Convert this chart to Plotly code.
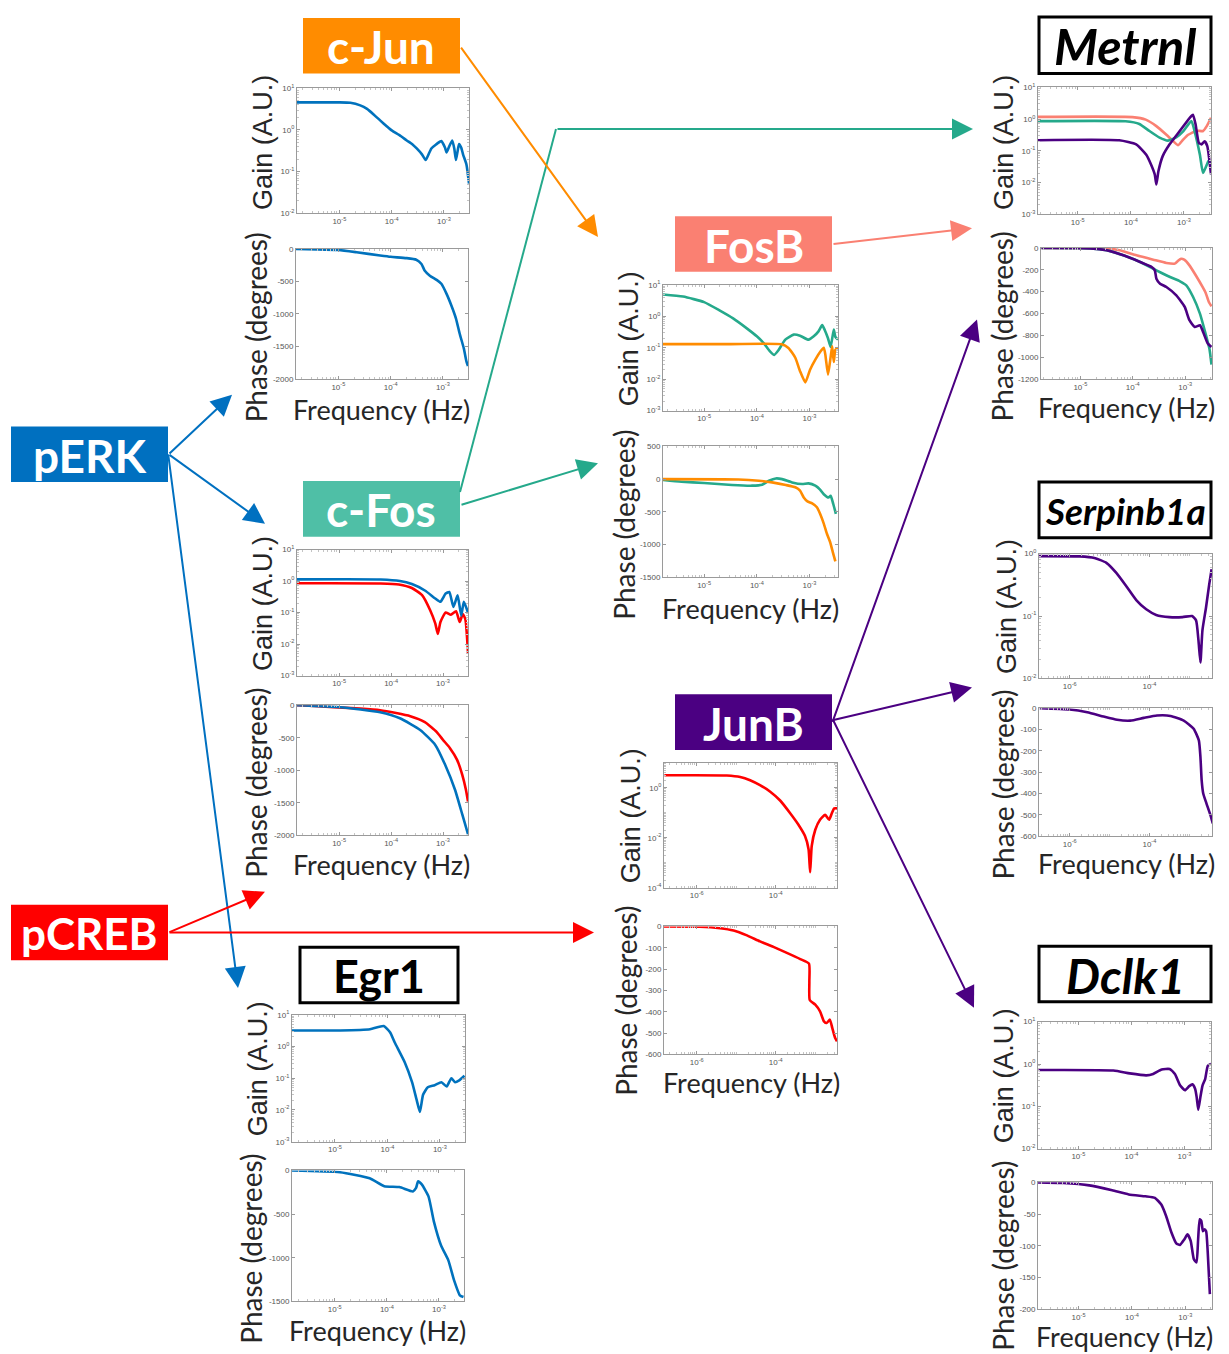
import plotly.graph_objects as go

W, H = 1229, 1354

BLUE = "#0072BD"
RED = "#FF0000"
TEAL = "#25A98B"
ORANGE = "#FF8C00"
SALMON = "#FA8072"
PURPLE = "#4B0082"

# ---------------------------------------------------------------
# Frequency responses. Frequencies are given as log10(Hz);
# gains in A.U., phases in degrees.
# ---------------------------------------------------------------

# c-Jun  (input: pERK)
cjun_gain_logf = [-5.81, -5.0, -4.79, -4.6, -4.47, -4.35, -4.22, -4.1, -4.0, -3.85, -3.71, -3.6,
                  -3.52, -3.42, -3.35, -3.3, -3.24, -3.15, -3.05, -2.98, -2.95, -2.9, -2.84, -2.8,
                  -2.77, -2.74, -2.71, -2.67, -2.63, -2.57, -2.52]
cjun_gain = [4.6, 4.6, 4.5, 3.9, 3.2, 2.4, 1.7, 1.25, 0.98, 0.75, 0.56, 0.45,
             0.36, 0.26, 0.19, 0.25, 0.36, 0.45, 0.54, 0.38, 0.29, 0.4, 0.56, 0.35,
             0.19, 0.3, 0.46, 0.38, 0.25, 0.15, 0.052]
cjun_phase_logf = [-5.81, -5.4, -5.0, -4.65, -4.2, -4.0, -3.7, -3.51, -3.41, -3.35, -3.25, -3.12,
                   -3.03, -2.93, -2.84, -2.75, -2.68, -2.6, -2.55, -2.52]
cjun_phase = [0, -5, -15, -50, -100, -120, -140, -165, -230, -330, -410, -475,
              -535, -690, -865, -1070, -1300, -1530, -1730, -1800]

# FosB  (inputs: c-Fos, c-Jun)
fosb_gain_cfos_logf = [-5.78, -5.4, -5.0, -4.7, -4.45, -4.19, -4.0, -3.87, -3.75, -3.67, -3.59, -3.46,
                       -3.3, -3.18, -3.02, -2.92, -2.83, -2.76, -2.71, -2.65, -2.6, -2.54, -2.51, -2.46]
fosb_gain_cfos = [4.9, 4.2, 2.8, 1.5, 0.85, 0.41, 0.23, 0.14, 0.077, 0.059, 0.083, 0.18,
                  0.26, 0.24, 0.18, 0.23, 0.33, 0.52, 0.36, 0.2, 0.105, 0.38, 0.22, 0.18]
fosb_gain_cjun_logf = [-5.78, -4.5, -3.53, -3.4, -3.27, -3.18, -3.08, -2.99, -2.89, -2.79, -2.73, -2.7,
                       -2.65, -2.6, -2.57, -2.54, -2.51, -2.46]
fosb_gain_cjun = [0.13, 0.13, 0.128, 0.098, 0.048, 0.018, 0.0079, 0.02, 0.042, 0.077, 0.1, 0.06,
                  0.014, 0.05, 0.11, 0.035, 0.085, 0.1]
fosb_phase_cfos_logf = [-5.82, -5.43, -5.0, -4.47, -4.09, -3.9, -3.77, -3.64, -3.52, -3.33, -3.14, -3.02,
                        -2.89, -2.8, -2.73, -2.64, -2.6, -2.55, -2.5]
fosb_phase_cfos = [-10, -40, -60, -90, -100, -85, -25, 10, 0, -50, -75, -65,
                   -100, -160, -230, -280, -255, -380, -530]
fosb_phase_cjun_logf = [-5.82, -4.35, -3.96, -3.71, -3.45, -3.27, -3.18, -3.11, -3.04, -2.95, -2.86, -2.8,
                        -2.73, -2.67, -2.61, -2.56, -2.51]
fosb_phase_cjun = [0, -5, -25, -50, -90, -125, -175, -280, -340, -370, -430, -530,
                   -680, -835, -960, -1110, -1255]

# Metrnl  (inputs: FosB, c-Fos, JunB)
metrnl_gain_fosb_logf = [-5.75, -3.97, -3.72, -3.52, -3.33, -3.2, -3.11, -3.01, -2.92, -2.76, -2.64, -2.57, -2.49]
metrnl_gain_fosb = [1.17, 1.15, 0.96, 0.6, 0.32, 0.2, 0.15, 0.23, 0.32, 0.43, 0.42, 0.6, 1.1]
metrnl_gain_cfos_logf = [-5.75, -4.1, -3.84, -3.65, -3.46, -3.3, -3.14, -3.01, -2.86, -2.8, -2.7, -2.64,
                         -2.57, -2.53, -2.49]
metrnl_gain_cfos = [0.86, 0.85, 0.7, 0.42, 0.26, 0.21, 0.27, 0.42, 0.86, 0.42, 0.076, 0.02,
                    0.036, 0.05, 0.036]
metrnl_gain_junb_logf = [-5.75, -4.22, -3.9, -3.71, -3.62, -3.55, -3.52, -3.48, -3.4, -3.27, -3.08, -2.89,
                         -2.83, -2.78, -2.72, -2.67, -2.61, -2.56, -2.49]
metrnl_gain_junb = [0.216, 0.214, 0.16, 0.075, 0.037, 0.018, 0.0087, 0.023, 0.068, 0.16, 0.42, 1.1,
                    1.37, 0.67, 0.18, 0.16, 0.2, 0.14, 0.018]
metrnl_phase_fosb_logf = [-5.74, -4.5, -4.25, -3.93, -3.61, -3.36, -3.2, -3.14, -3.08, -3.02, -2.92, -2.8,
                          -2.67, -2.61, -2.55, -2.5]
metrnl_phase_fosb = [0, -3, -21, -67, -107, -137, -143, -119, -98, -107, -159, -250,
                     -357, -412, -495, -534]
metrnl_phase_cfos_logf = [-5.74, -4.81, -4.5, -4.18, -3.86, -3.61, -3.45, -3.29, -3.1, -2.98, -2.85, -2.72,
                          -2.63, -2.54, -2.5]
metrnl_phase_cfos = [0, -3, -21, -67, -128, -189, -229, -266, -305, -342, -449, -601,
                     -754, -922, -1068]
metrnl_phase_junb_logf = [-5.74, -4.81, -4.5, -4.18, -3.86, -3.64, -3.58, -3.55, -3.48, -3.36, -3.17, -3.01,
                          -2.92, -2.82, -2.72, -2.66, -2.57, -2.5]
metrnl_phase_junb = [0, -3, -21, -67, -128, -174, -205, -281, -327, -357, -434, -540,
                     -662, -724, -708, -769, -876, -907]

# c-Fos  (inputs: pERK, pCREB)
cfos_gain_perk_logf = [-5.81, -4.2, -3.83, -3.6, -3.35, -3.15, -3.05, -2.95, -2.88, -2.8, -2.72, -2.65, -2.6, -2.52]
cfos_gain_perk = [1.13, 1.12, 1.0, 0.8, 0.5, 0.28, 0.22, 0.4, 0.45, 0.15, 0.35, 0.08, 0.22, 0.1]
cfos_gain_pcreb_logf = [-5.81, -4.2, -3.85, -3.6, -3.4, -3.25, -3.15, -3.1, -3.05, -2.95, -2.85, -2.75,
                        -2.68, -2.62, -2.57, -2.52]
cfos_gain_pcreb = [0.85, 0.84, 0.78, 0.6, 0.35, 0.12, 0.045, 0.021, 0.05, 0.1, 0.085, 0.11,
                   0.05, 0.09, 0.06, 0.0052]
cfos_phase_perk_logf = [-5.81, -4.98, -4.21, -3.83, -3.44, -3.15, -2.96, -2.77, -2.63, -2.52]
cfos_phase_perk = [0, -30, -107, -200, -380, -610, -916, -1300, -1680, -1985]
cfos_phase_pcreb_logf = [-5.81, -4.21, -3.63, -3.35, -3.12, -3.0, -2.87, -2.73, -2.63, -2.56, -2.52]
cfos_phase_pcreb = [0, -76, -168, -260, -412, -534, -656, -840, -1070, -1300, -1480]

# Serpinb1a  (input: JunB)
serpin_gain_logf = [-6.77, -5.75, -5.38, -5.08, -4.83, -4.58, -4.33, -4.08, -3.83, -3.5, -3.17, -2.93,
                    -2.83, -2.77, -2.72, -2.67, -2.58, -2.5, -2.44]
serpin_gain = [0.91, 0.9, 0.85, 0.71, 0.49, 0.3, 0.18, 0.128, 0.104, 0.096, 0.096, 0.1,
               0.085, 0.041, 0.018, 0.059, 0.137, 0.32, 0.56]
serpin_phase_logf = [-6.75, -6.0, -5.56, -5.15, -4.81, -4.48, -4.14, -3.81, -3.47, -3.14, -2.89, -2.76,
                     -2.72, -2.69, -2.65, -2.57, -2.47, -2.41]
serpin_phase = [0, -6, -19, -39, -54, -58, -45, -34, -36, -58, -96, -151,
                -229, -337, -400, -446, -501, -540]

# JunB  (input: pCREB)
junb_gain_logf = [-6.82, -5.24, -4.9, -4.65, -4.4, -4.14, -3.89, -3.64, -3.43, -3.26, -3.17, -3.13,
                  -3.09, -3.0, -2.88, -2.75, -2.65, -2.58, -2.52, -2.45]
junb_gain = [3.16, 3.1, 2.7, 2.0, 1.27, 0.7, 0.31, 0.098, 0.034, 0.0117, 0.0035, 0.00042,
             0.0047, 0.021, 0.053, 0.083, 0.053, 0.097, 0.15, 0.15]
junb_phase_logf = [-6.83, -5.92, -5.41, -5.07, -4.73, -4.4, -4.06, -3.72, -3.38, -3.16, -3.15, -3.14,
                   -3.0, -2.88, -2.78, -2.71, -2.63, -2.57, -2.5, -2.45]
junb_phase = [0, -1, -8, -19, -42, -70, -96, -124, -153, -174, -260, -345,
              -367, -398, -445, -453, -437, -476, -522, -538]

# Egr1  (input: pERK)
egr1_gain_logf = [-5.82, -4.9, -4.33, -4.07, -3.95, -3.86, -3.67, -3.53, -3.44, -3.38, -3.32, -3.23,
                  -3.1, -2.97, -2.87, -2.78, -2.71, -2.63, -2.53]
egr1_gain = [3.2, 3.2, 3.5, 4.4, 2.8, 1.33, 0.32, 0.075, 0.02, 0.0087, 0.03, 0.052,
             0.06, 0.075, 0.055, 0.1, 0.075, 0.086, 0.12]
egr1_phase_logf = [-5.82, -4.9, -4.33, -4.05, -3.76, -3.5, -3.44, -3.4, -3.33, -3.2, -3.1, -2.96,
                   -2.82, -2.71, -2.6, -2.53]
egr1_phase = [0, -20, -90, -180, -190, -240, -200, -125, -160, -300, -580, -860,
              -1030, -1260, -1430, -1450]

# Dclk1  (input: JunB)
dclk1_gain_logf = [-5.75, -4.34, -4.03, -3.72, -3.59, -3.43, -3.28, -3.18, -3.08, -2.99, -2.91, -2.85,
                   -2.8, -2.77, -2.74, -2.7, -2.66, -2.61, -2.56, -2.5]
dclk1_gain = [0.72, 0.7, 0.6, 0.54, 0.58, 0.74, 0.76, 0.58, 0.31, 0.24, 0.3, 0.33,
              0.26, 0.165, 0.083, 0.165, 0.31, 0.44, 0.91, 1.0]
dclk1_phase_logf = [-5.76, -5.29, -4.8, -4.37, -4.06, -3.75, -3.57, -3.45, -3.36, -3.26, -3.17, -3.1,
                    -3.02, -2.96, -2.9, -2.84, -2.79, -2.76, -2.73, -2.7, -2.67, -2.64, -2.61, -2.58, -2.54]
dclk1_phase = [0, -1, -4.7, -12.5, -19, -22, -24.5, -35, -53, -79, -96, -98.5,
               -90, -82, -92, -121, -126, -90, -58, -61, -77, -74, -77, -110, -176]

# ---------------------------------------------------------------
# Panel layout (pixel boxes: left, top, right, bottom)
# ---------------------------------------------------------------
panels = [
    dict(gbox=(297, 83, 469, 209), pbox=(296, 245, 468, 376), xr=(-5.81, -2.52), xt=[-5, -4, -3],
         gr=(-2, 1), gt=[-2, -1, 0, 1], pr=(-2000, 0), pt=[-2000, -1500, -1000, -500, 0],
         gain=[(cjun_gain_logf, cjun_gain, BLUE)],
         phase=[(cjun_phase_logf, cjun_phase, BLUE)]),
    dict(gbox=(663, 281, 838, 408), pbox=(663, 444, 838, 576), xr=(-5.78, -2.46), xt=[-5, -4, -3],
         gr=(-3, 1), gt=[-3, -2, -1, 0, 1], pr=(-1500, 500), pt=[-1500, -1000, -500, 0, 500],
         gain=[(fosb_gain_cfos_logf, fosb_gain_cfos, TEAL), (fosb_gain_cjun_logf, fosb_gain_cjun, ORANGE)],
         phase=[(fosb_phase_cfos_logf, fosb_phase_cfos, TEAL), (fosb_phase_cjun_logf, fosb_phase_cjun, ORANGE)]),
    dict(gbox=(1038, 82, 1211, 210), pbox=(1041, 244, 1212, 376), xr=(-5.75, -2.49), xt=[-5, -4, -3],
         gr=(-3, 1), gt=[-3, -2, -1, 0, 1], pr=(-1200, 0), pt=[-1200, -1000, -800, -600, -400, -200, 0],
         gain=[(metrnl_gain_fosb_logf, metrnl_gain_fosb, SALMON), (metrnl_gain_cfos_logf, metrnl_gain_cfos, TEAL),
               (metrnl_gain_junb_logf, metrnl_gain_junb, PURPLE)],
         phase=[(metrnl_phase_fosb_logf, metrnl_phase_fosb, SALMON), (metrnl_phase_cfos_logf, metrnl_phase_cfos, TEAL),
                (metrnl_phase_junb_logf, metrnl_phase_junb, PURPLE)]),
    dict(gbox=(297, 548, 468, 675), pbox=(297, 705, 468, 836), xr=(-5.81, -2.52), xt=[-5, -4, -3],
         gr=(-3, 1), gt=[-3, -2, -1, 0, 1], pr=(-2000, 0), pt=[-2000, -1500, -1000, -500, 0],
         gain=[(cfos_gain_pcreb_logf, cfos_gain_pcreb, RED), (cfos_gain_perk_logf, cfos_gain_perk, BLUE)],
         phase=[(cfos_phase_pcreb_logf, cfos_phase_pcreb, RED), (cfos_phase_perk_logf, cfos_phase_perk, BLUE)]),
    dict(gbox=(1039, 552, 1212, 678), pbox=(1039, 708, 1212, 837), xr=(-6.77, -2.43), xt=[-6, -4],
         gr=(-2, 0), gt=[-2, -1, 0], pr=(-600, 0), pt=[-600, -500, -400, -300, -200, -100, 0],
         gain=[(serpin_gain_logf, serpin_gain, PURPLE)],
         phase=[(serpin_phase_logf, serpin_phase, PURPLE)]),
    dict(gbox=(664, 763, 837, 889), pbox=(664, 928, 837, 1057), xr=(-6.83, -2.45), xt=[-6, -4],
         gr=(-4, 1), gt=[-4, -2, 0], pr=(-600, 0), pt=[-600, -500, -400, -300, -200, -100, 0],
         gain=[(junb_gain_logf, junb_gain, RED)],
         phase=[(junb_phase_logf, junb_phase, RED)]),
    dict(gbox=(292, 1017, 465, 1145), pbox=(292, 1174, 464, 1306), xr=(-5.82, -2.52), xt=[-5, -4, -3],
         gr=(-3, 1), gt=[-3, -2, -1, 0, 1], pr=(-1500, 0), pt=[-1500, -1000, -500, 0],
         gain=[(egr1_gain_logf, egr1_gain, BLUE)],
         phase=[(egr1_phase_logf, egr1_phase, BLUE)]),
    dict(gbox=(1038, 1024, 1211, 1152), pbox=(1038, 1186, 1212, 1314), xr=(-5.76, -2.5), xt=[-5, -4, -3],
         gr=(-2, 1), gt=[-2, -1, 0, 1], pr=(-200, 0), pt=[-200, -150, -100, -50, 0],
         gain=[(dclk1_gain_logf, dclk1_gain, PURPLE)],
         phase=[(dclk1_phase_logf, dclk1_phase, PURPLE)]),
]

TICK_FONT = dict(family="Liberation Sans", size=8, color="#555555")
FRAME = "#9a9a9a"


def pow10(e):
    return "10<sup>%d</sup>" % e


fig = go.Figure()
layout = {}
ax_id = 0


def add_axes(box, xr, xt, yr, yt, ylog, series):
    global ax_id
    ax_id += 1
    sfx = "" if ax_id == 1 else str(ax_id)
    l, t, r, b = box
    xa = dict(domain=[l / W, r / W], anchor="y" + sfx, type="log", range=list(xr),
              tickvals=[10.0 ** e for e in xt], ticktext=[pow10(e) for e in xt],
              showline=True, mirror="ticks", linecolor=FRAME, linewidth=1,
              ticks="inside", ticklen=3, tickcolor=FRAME, tickfont=TICK_FONT,
              showgrid=False, zeroline=False, fixedrange=True,
              minor=dict(ticks="inside", ticklen=2, tickcolor="#c4c4c4", dtick="D1", showgrid=False))
    if ylog:
        ya = dict(type="log", range=list(yr), tickvals=[10.0 ** e for e in yt],
                  ticktext=[pow10(e) for e in yt],
                  minor=dict(ticks="inside", ticklen=2, tickcolor="#c4c4c4", dtick="D1", showgrid=False))
    else:
        ya = dict(type="linear", range=list(yr), tickvals=yt, ticktext=[str(v) for v in yt])
    ya.update(domain=[1 - b / H, 1 - t / H], anchor="x" + sfx,
              showline=True, mirror="ticks", linecolor=FRAME, linewidth=1,
              ticks="inside", ticklen=3, tickcolor=FRAME, tickfont=TICK_FONT,
              showgrid=False, zeroline=False, fixedrange=True)
    layout["xaxis" + sfx] = xa
    layout["yaxis" + sfx] = ya
    for logf, vals, color in series:
        fig.add_trace(go.Scatter(
            x=[10.0 ** v for v in logf], y=vals, mode="lines",
            xaxis="x" + sfx, yaxis="y" + sfx, showlegend=False, hoverinfo="skip",
            line=dict(color=color, width=2.6, shape="spline", smoothing=0.5)))


for p in panels:
    add_axes(p["gbox"], p["xr"], p["xt"], p["gr"], p["gt"], True, p["gain"])
    add_axes(p["pbox"], p["xr"], p["xt"], p["pr"], p["pt"], False, p["phase"])

# ---------------------------------------------------------------
# Axis titles
# ---------------------------------------------------------------
annotations = []
TITLE_COLOR = "#262626"


def text_at(txt, cx, cy, size, family, angle=0, color=TITLE_COLOR, bold=False, italic=False):
    if bold:
        txt = "<b>" + txt + "</b>"
    if italic:
        txt = "<i>" + txt + "</i>"
    annotations.append(dict(text=txt, x=cx / W, y=1 - cy / H, xref="paper", yref="paper",
                            showarrow=False, textangle=angle, xanchor="center", yanchor="middle",
                            font=dict(size=size, family=family, color=color)))


gain_titles = [(263, 138), (629, 336), (1004, 138), (263, 603), (1007, 606), (631, 816), (258, 1072), (1004, 1079)]
phase_titles = [(256, 324), (624, 523), (1002, 323), (256, 783), (1003, 785), (626, 1003), (251, 1253), (1003, 1260)]
freq_titles = [(381, 407), (750, 607), (1126, 405), (381, 866), (1126, 865), (751, 1085), (377, 1335), (1124, 1341)]

for cx, cy in gain_titles:
    text_at("Gain (A.U.)", cx, cy, 27, "Liberation Sans", angle=-90)
for cx, cy in phase_titles:
    text_at("Phase (degrees)", cx, cy, 28, "Lato", angle=-90)
for cx, cy in freq_titles:
    text_at("Frequency (Hz)", cx, cy, 27, "Lato")

# ---------------------------------------------------------------
# Node labels
# ---------------------------------------------------------------
shapes = []


def node(label, box, fill, text_color="white", border=None, italic=False, size=45):
    l, t, r, b = box
    shapes.append(dict(type="rect", xref="paper", yref="paper",
                       x0=l / W, x1=r / W, y0=1 - b / H, y1=1 - t / H,
                       fillcolor=fill, line=dict(color=border or fill, width=3 if border else 0),
                       layer="above"))
    text_at(label, (l + r) / 2, (t + b) / 2 + 1, size, "Lato", color=text_color, bold=True, italic=italic)


node("c-Jun", (303, 12, 460, 68), ORANGE, size=46)
node("FosB", (675, 212, 832, 268), SALMON, size=46)
node("c-Fos", (303, 479, 460, 535), "#4FBFA6", size=46)
node("JunB", (675, 694, 832, 750), PURPLE, size=46)
node("pERK", (11, 424, 168, 480), "#0070C0", size=46)
node("pCREB", (11, 906, 168, 962), RED, size=44)
node("Egr1", (300, 949, 458, 1005), "white", text_color="black", border="black", size=45)
node("Metrnl", (1039, 11, 1211, 68), "white", text_color="black", border="black", italic=True, size=50)
node("Serpinb1a", (1039, 480, 1211, 536), "white", text_color="black", border="black", italic=True, size=37)
node("Dclk1", (1039, 948, 1211, 1004), "white", text_color="black", border="black", italic=True, size=48)

# ---------------------------------------------------------------
# Regulatory arrows
# ---------------------------------------------------------------


def arrow(x0, y0, x1, y1, color):
    annotations.append(dict(x=x1 / W, y=1 - y1 / H, xref="paper", yref="paper",
                            ax=x0 - x1, ay=y0 - y1, axref="pixel", ayref="pixel",
                            text="", showarrow=True, arrowhead=2, arrowsize=2.1, arrowwidth=2,
                            arrowcolor=color))


def segment(x0, y0, x1, y1, color):
    shapes.append(dict(type="line", xref="paper", yref="paper",
                       x0=x0 / W, y0=1 - y0 / H, x1=x1 / W, y1=1 - y1 / H,
                       line=dict(color=color, width=2)))


arrow(460, 42, 598, 233, ORANGE)
segment(460, 490, 556, 124, TEAL)
arrow(556, 124, 973, 124, TEAL)
arrow(460, 503, 598, 461, TEAL)
arrow(832, 240, 972, 224, SALMON)
arrow(168, 452, 232, 392, "#0070C0")
arrow(168, 452, 265, 522, "#0070C0")
arrow(168, 455, 238, 990, "#0070C0")
arrow(168, 934, 265, 893, RED)
arrow(168, 934, 594, 934, RED)
arrow(832, 720, 977, 316, PURPLE)
arrow(832, 720, 972, 687, PURPLE)
arrow(832, 720, 974, 1010, PURPLE)

layout.update(width=W, height=H, margin=dict(l=0, r=0, t=0, b=0, pad=0),
              paper_bgcolor="white", plot_bgcolor="white",
              annotations=annotations, shapes=shapes, showlegend=False)
fig.update_layout(**layout)
fig.write_html("out.html")
